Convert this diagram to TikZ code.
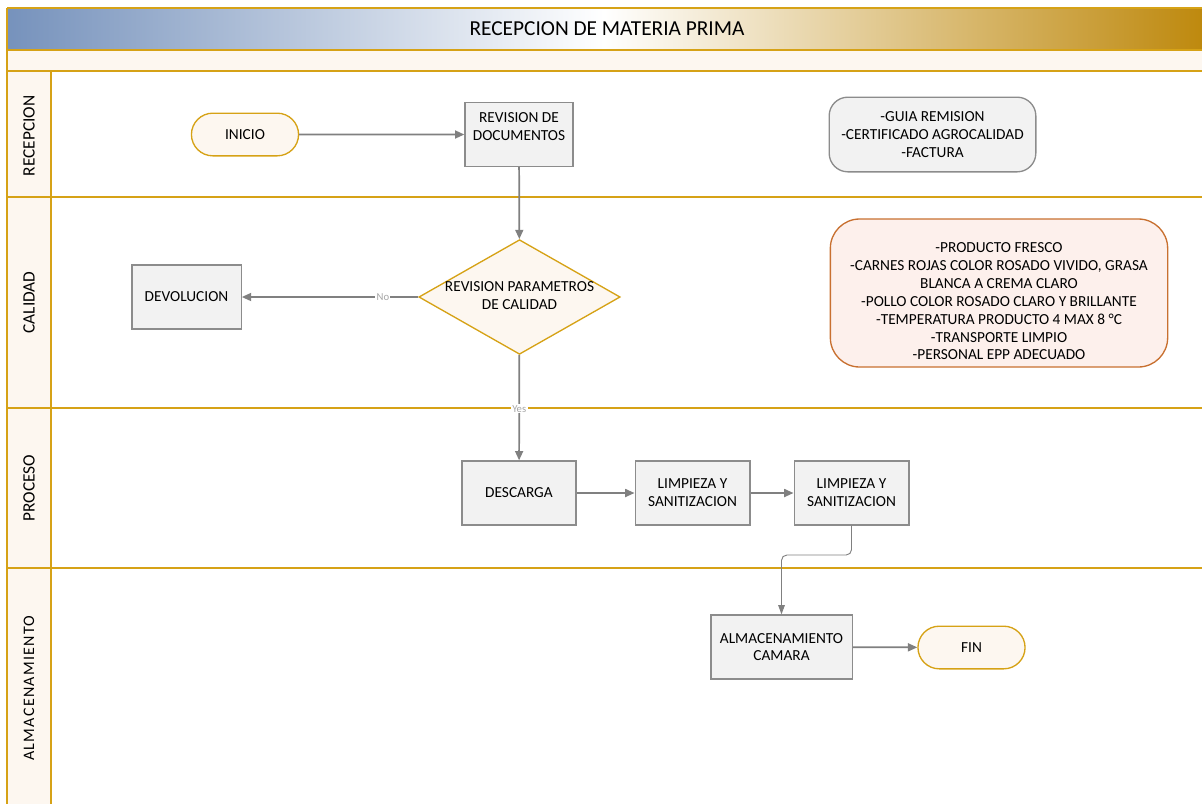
\documentclass[tikz,border=0pt]{standalone}
\usepackage{fontspec}
\setmainfont{Carlito}
\usetikzlibrary{arrows.meta,shapes}
\definecolor{lanegold}{RGB}{214,162,22}
\definecolor{lanecream}{RGB}{253,247,240}
\definecolor{titleblue}{RGB}{118,146,188}
\definecolor{titletan}{RGB}{224,196,138}
\definecolor{titlegold}{RGB}{190,137,14}
\definecolor{boxgray}{RGB}{140,140,140}
\definecolor{boxfill}{RGB}{242,242,242}
\definecolor{notered}{RGB}{200,112,48}
\definecolor{notefill}{RGB}{253,240,236}
\definecolor{flowgray}{RGB}{128,128,128}
\tikzstyle{laneline}=[draw=lanegold,line width=1.5pt]
\tikzstyle{lanelabel}=[rotate=90,font=\fontsize{13}{15}\selectfont]
\tikzstyle{process}=[rectangle,draw=boxgray,fill=boxfill,line width=1pt,minimum height=48pt,align=center,font=\fontsize{11.5}{13.4}\selectfont]
\tikzstyle{terminal}=[rounded rectangle,draw=lanegold,fill=lanecream,line width=1pt,minimum width=87pt,minimum height=32pt,font=\fontsize{11.5}{13.4}\selectfont]
\tikzstyle{decision}=[diamond,draw=lanegold,fill=lanecream,line width=1pt,minimum width=151pt,minimum height=86pt,inner sep=0pt,font=\fontsize{11.5}{13.4}\selectfont]
\tikzstyle{note}=[rectangle,rounded corners=14pt,line width=1pt,align=center,font=\fontsize{11.5}{13.4}\selectfont]
\tikzstyle{flow}=[draw=flowgray,line width=1.3pt,-{Triangle[length=7pt,width=6pt]}]
\tikzstyle{thinflow}=[draw=flowgray,line width=0.7pt,-{Triangle[length=7pt,width=5pt]}]
\tikzstyle{flowlabel}=[fill=white,inner sep=1pt,text=black!35,font=\fontsize{8}{9}\selectfont]

\begin{document}
\begin{tikzpicture}[x=0.75pt,y=-0.75pt]
    \useasboundingbox (0,0) rectangle (1202,804);

    % header and lanes
    \shade[left color=titleblue,right color=white] (7,8) rectangle (604,50);
    \shade[left color=white,middle color=titletan,right color=titlegold] (604,8) rectangle (1202,50);
    \fill[lanecream] (7,50) rectangle (1202,71);
    \fill[lanecream] (7,71) rectangle (51,804);
    \node[font=\fontsize{16}{18}\selectfont] (title) at (607,29) {RECEPCION DE MATERIA PRIMA};

    \foreach \y in {8,50,71,197,408,568}
        \draw[laneline] (7,\y) -- (1202,\y);
    \draw[laneline] (7,8) -- (7,804);
    \draw[laneline] (51,71) -- (51,804);

    \foreach \y/\name/\txt in {136/recep/RECEPCION, 302.5/cali/CALIDAD, 488/proc/PROCESO}
        \node[lanelabel] (\name) at (29,\y) {\txt};
    \node[lanelabel, font=\fontsize{12}{14}\selectfont] (alma) at (29,688) {\addfontfeature{LetterSpace=8}ALMACENAMIENTO};

    % boxes
    \foreach \x/\y/\w/\name/\txt in {519/134.5/81/revdoc/{REVISION DE\\DOCUMENTOS\rule[-12pt]{0pt}{0pt}},
            186.5/297/82/devol/{DEVOLUCION},
            519/493/85.5/descarga/{DESCARGA},
            692.5/493/86/limpa/{LIMPIEZA Y\\SANITIZACION},
            851.5/493/86/limpb/{LIMPIEZA Y\\SANITIZACION},
            781.5/647/106/almac/{ALMACENAMIENTO\\CAMARA}}
        \node[process, minimum width=\w pt] (\name) at (\x,\y) {\txt};

    \node[terminal] (inicio) at (245,134.5) {INICIO};
    \node[terminal] (fin) at (971.5,647.5) {FIN};
    \node[decision] (check) at (519.5,297) {\makebox[0pt]{\begin{tabular}{@{}c@{}}REVISION PARAMETROS\\DE CALIDAD\end{tabular}}};

    \node[note, draw=boxgray, fill=boxfill, minimum width=155pt, minimum height=56pt] (docs) at (932.5,134.5)
        {-GUIA REMISION\\-CERTIFICADO AGROCALIDAD\\-FACTURA};
    \node[note, draw=notered, fill=notefill, rounded corners=22pt, minimum width=253pt, minimum height=111pt] (params) at (999,293)
        {\rule{0pt}{20pt}-PRODUCTO FRESCO\\-CARNES ROJAS COLOR ROSADO VIVIDO, GRASA\\BLANCA A CREMA CLARO\\-POLLO COLOR ROSADO CLARO Y BRILLANTE\\-TEMPERATURA PRODUCTO 4 MAX 8 °C\\-TRANSPORTE LIMPIO\\-PERSONAL EPP ADECUADO};

    % connectors
    \coordinate (bend) at (781.5,555);
    \draw[flow] (inicio) -- (revdoc);
    \draw[flow] (revdoc) -- (check);
    \draw[flow] (check) -- node[flowlabel, pos=0.2] {No} (devol);
    \draw[flow] (check) -- node[flowlabel, pos=0.51] {Yes} (descarga);
    \draw[flow] (descarga) -- (limpa);
    \draw[flow] (limpa) -- (limpb);
    \draw[thinflow, rounded corners=4pt] (limpb.south) |- (bend) -- (almac.north);
    \draw[flow] (almac) -- (fin);
\end{tikzpicture}
\end{document}
